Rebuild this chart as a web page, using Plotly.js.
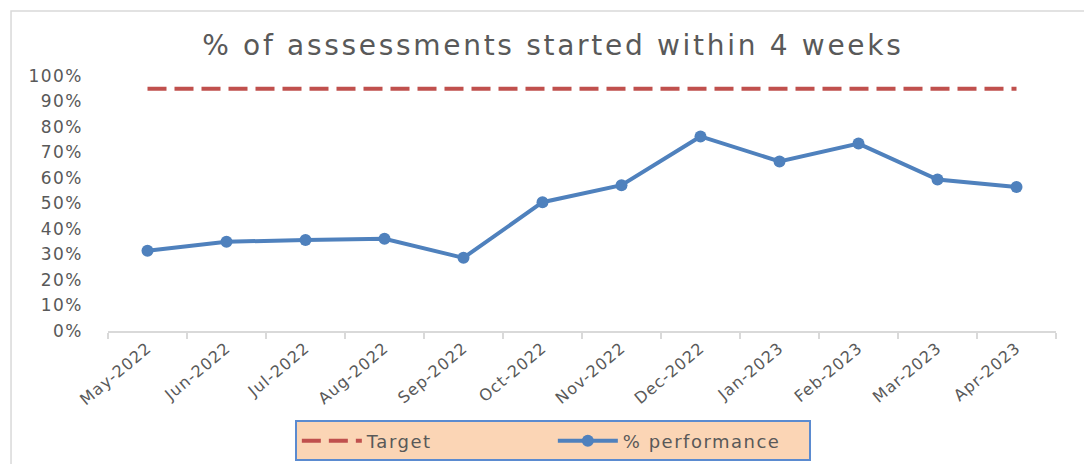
<!DOCTYPE html>
<html>
<head>
<meta charset="utf-8">
<script src="https://cdn.plot.ly/plotly-3.0.1.min.js"></script>
<style>
html,body{margin:0;padding:0;background:#fff;}
#chart{width:1084px;height:464px;}
#chart .gtitle{letter-spacing:2.7px;}
#chart .ytick text{letter-spacing:1.5px;}
#chart .xtick text{letter-spacing:1px;}
#chart .legendtext{letter-spacing:1.5px;}
</style>
</head>
<body>
<div id="chart"></div>
<script>
const months = ["May-2022","Jun-2022","Jul-2022","Aug-2022","Sep-2022","Oct-2022","Nov-2022","Dec-2022","Jan-2023","Feb-2023","Mar-2023","Apr-2023"];
const target = [0.95,0.95,0.95,0.95,0.95,0.95,0.95,0.95,0.95,0.95,0.95,0.95];
const performance = [0.315,0.35,0.357,0.362,0.287,0.505,0.572,0.763,0.665,0.735,0.594,0.565];
const yTickVals = [0,0.1,0.2,0.3,0.4,0.5,0.6,0.7,0.8,0.9,1.0];

const font = "DejaVu Sans, Verdana, sans-serif";
const traces = [
  {x: months, y: target, name: "Target", type: "scatter", mode: "lines",
   line: {color: "#C0504D", width: 4, dash: "19px,8px"}},
  {x: months, y: performance, name: "% performance", type: "scatter", mode: "lines+markers",
   line: {color: "#4F81BD", width: 4}, marker: {color: "#4F81BD", size: 12}}
];
const layout = {
  width: 1084, height: 464,
  margin: {l: 108, r: 28, t: 76, b: 133},
  paper_bgcolor: "#fff", plot_bgcolor: "#fff",
  font: {family: font, color: "#595959"},
  title: {text: "% of asssessments started within 4 weeks", x: 0.51, xanchor: "center",
          y: 0.903, yanchor: "middle", font: {family: font, size: 28, color: "#595959"}},
  xaxis: {type: "category", range: [-0.5, months.length - 0.5], automargin: false, showgrid: false,
          showline: true, linecolor: "#D9D9D9", linewidth: 1.5,
          ticks: "outside", tickson: "boundaries", ticklen: 6, tickcolor: "#D9D9D9", tickwidth: 1.5,
          tickangle: -40, tickfont: {family: font, size: 16, color: "#595959"}, zeroline: false},
  yaxis: {range: [0, 1], automargin: false, tickvals: yTickVals, tickformat: ".0%", showgrid: false, showline: false,
          zeroline: false, ticks: "", ticklabelstandoff: 24,
          tickfont: {family: font, size: 17, color: "#595959"}},
  showlegend: true,
  legend: {orientation: "h", xref: "container", yref: "container", x: 0.51, xanchor: "center", y: 0.0496, yanchor: "middle",
           bgcolor: "#FBD5B5", bordercolor: "#5B8BD0", borderwidth: 2,
           font: {family: font, size: 18, color: "#595959"}, itemwidth: 60, entrywidth: 181, entrywidthmode: "pixels"},
  shapes: [{type: "rect", xref: "paper", yref: "paper", x0: -0.1023, x1: 1.05, y0: -0.6, y1: 1.255,
            line: {color: "#D9D9D9", width: 1.5}, fillcolor: "rgba(0,0,0,0)", layer: "below"}]
};
Plotly.newPlot("chart", traces, layout, {displayModeBar: false, staticPlot: true});
</script>
</body>
</html>
